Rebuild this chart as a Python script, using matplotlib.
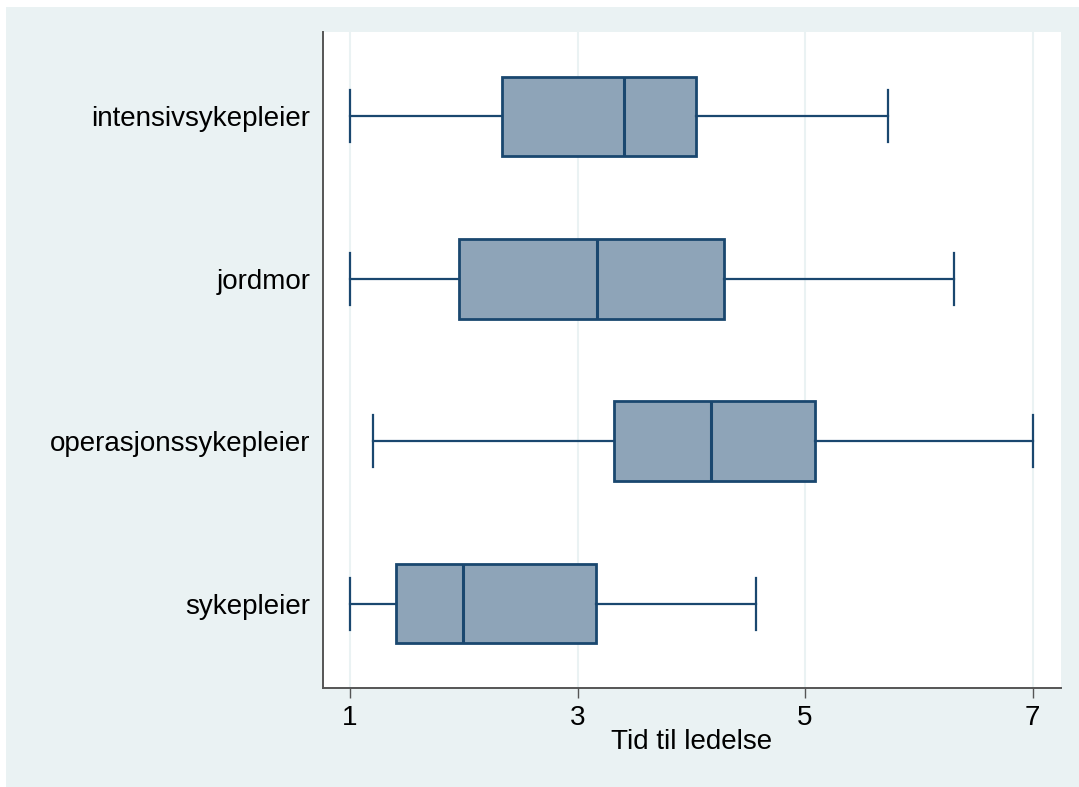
import matplotlib
matplotlib.use('Agg')
import matplotlib.pyplot as plt
from matplotlib.patches import Rectangle

plt.rcParams['font.family'] = ['Liberation Sans', 'DejaVu Sans']

# Data (bottom to top)
categories = ['sykepleier', 'operasjonssykepleier', 'jordmor', 'intensivsykepleier']
whislo = [1.0, 1.2, 1.0, 1.0]
q1 = [1.40, 3.32, 1.96, 2.34]
med = [1.99, 4.17, 3.17, 3.41]
q3 = [3.16, 5.09, 4.29, 4.04]
whishi = [4.57, 7.0, 6.31, 5.73]
xticks = [1, 3, 5, 7]

navy = '#1A476F'
fill = '#8EA4B8'
bg = '#EAF2F3'

fig = plt.figure(figsize=(10.79, 7.87), dpi=100)
fig.patch.set_facecolor('white')
fig.patches.append(Rectangle((6 / 1079, 0), 1 - 6 / 1079, 1 - 7 / 787,
                             transform=fig.transFigure, facecolor=bg,
                             edgecolor='none', zorder=-10))

ax = fig.add_axes([323 / 1079, 1 - 688 / 787, (1061 - 323) / 1079, (688 - 32) / 787])
ax.set_facecolor('white')

stats = []
for i in range(len(categories)):
    stats.append({'label': categories[i], 'whislo': whislo[i], 'q1': q1[i],
                  'med': med[i], 'q3': q3[i], 'whishi': whishi[i], 'fliers': []})

ax.bxp(stats, positions=[1, 2, 3, 4], widths=0.49, capwidths=0.32,
       orientation='horizontal', patch_artist=True, showfliers=False,
       boxprops=dict(facecolor=fill, edgecolor=navy, linewidth=2),
       medianprops=dict(color=navy, linewidth=2.2),
       whiskerprops=dict(color=navy, linewidth=1.6),
       capprops=dict(color=navy, linewidth=1.6))

ax.set_xlim(0.762, 7.25)
ax.set_ylim(0.48, 4.52)
ax.set_xticks(xticks)
ax.set_xticklabels([str(t) for t in xticks])
ax.set_yticks([1, 2, 3, 4])
ax.set_yticklabels(categories)
ax.grid(axis='x', color=bg, linewidth=1.5)
ax.set_axisbelow(True)

for s in ['top', 'right']:
    ax.spines[s].set_visible(False)
for s in ['left', 'bottom']:
    ax.spines[s].set_color('#555555')
    ax.spines[s].set_linewidth(1.4)

ax.tick_params(axis='y', length=0, pad=9, labelsize=20)
ax.tick_params(axis='x', length=7, width=1, color='#555555', pad=5, labelsize=20)
ax.set_xlabel('Tid til ledelse', fontsize=20, labelpad=-1)

fig.savefig('out.png', dpi=100, facecolor=fig.get_facecolor())
